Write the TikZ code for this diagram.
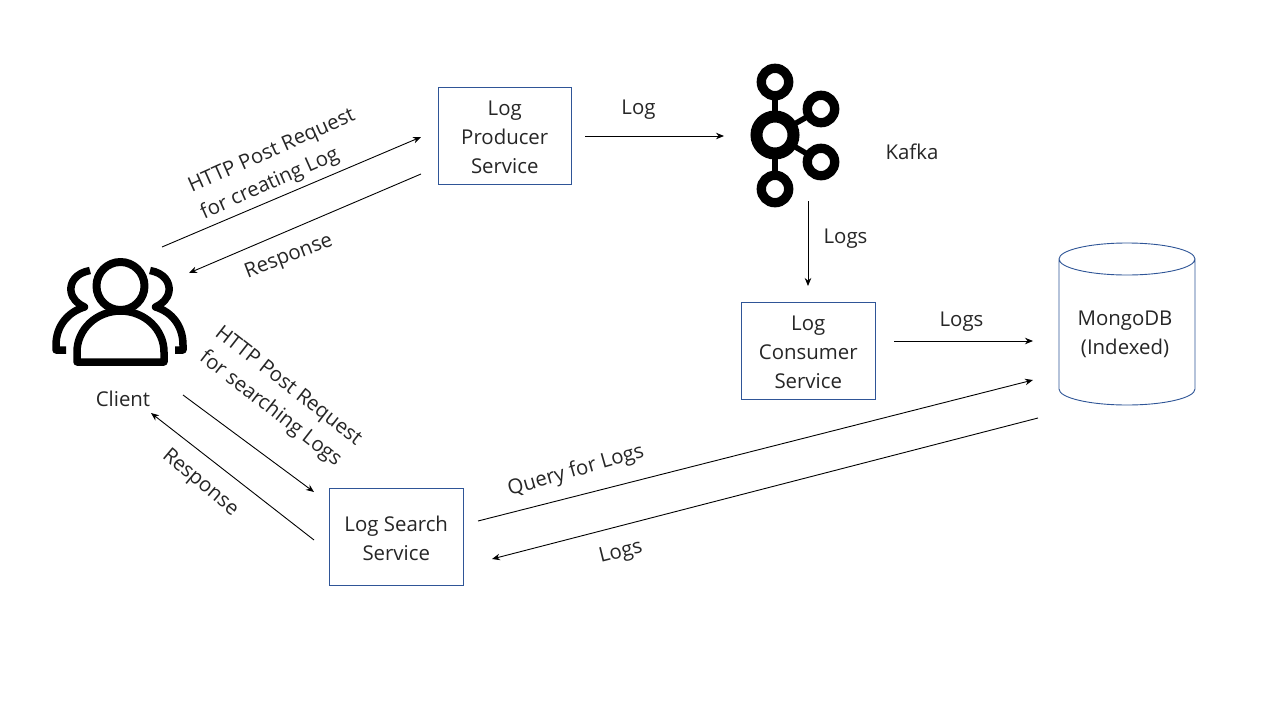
\documentclass[tikz,border=0pt]{standalone}
\usepackage{fontspec}
\setmainfont{Open Sans}
\usetikzlibrary{arrows.meta}
\definecolor{boxblue}{HTML}{2F5597}
\tikzset{
  x=1pt,y=-1pt,
  lbl/.style={font=\fontsize{20.4}{29}\selectfont,align=center,inner sep=0pt,text=black!85},
  svc/.style={draw=boxblue,line width=0.9pt,fill=white,anchor=north west,inner sep=0pt},
  svctext/.style={lbl,yshift=-1.5pt},
  conn/.style={draw=black,line width=0.9pt,-{Stealth[length=8pt,width=6.5pt]}},
  icon/.style={draw=black,line cap=round,line join=round},
}
\begin{document}
\begin{tikzpicture}
\useasboundingbox (0,0) rectangle (1280,720);
\fill[white] (0,0) rectangle (1280,720);
% services
\node[svc,minimum width=133pt,minimum height=97pt,label={[svctext]center:{Log\\Producer\\Service}}] (producer) at (437.8,86.8) {};
\node[svc,minimum width=134pt,minimum height=97pt,label={[svctext]center:{Log\\Consumer\\Service}}] (consumer) at (740.8,301.8) {};
\node[svc,minimum width=134pt,minimum height=97pt,label={[svctext]center:{Log Search\\Service}}] (search) at (328.8,487.8) {};
% cylinder
\draw[boxblue,line width=0.9pt] (1059,259) arc[start angle=180,end angle=0,x radius=68,y radius=16]
  arc[start angle=360,end angle=180,x radius=68,y radius=16] -- (1059,389)
  arc[start angle=180,end angle=0,x radius=68,y radius=16] -- (1195,259);
\node[lbl] (mongo) at (1125,334) {MongoDB\\(Indexed)};
% client icon
\draw[icon,line width=8pt] (120.5,286) circle[radius=24];
\draw[icon,line width=7.5pt] (77,362) -- (77,352) arc[start angle=180,end angle=360,x radius=43.5,y radius=41] -- (164,362) -- cycle;
\draw[icon,line width=7.5pt,line cap=butt] (90,270.5) .. controls (76,273) and (70,282) .. (71,291) .. controls (72,299) and (78,304) .. (84.5,307)
  .. controls (68,312) and (56,326) .. (56,345) -- (56,350) -- (66,350);
\draw[icon,line width=7.5pt,line cap=butt] (150,270.5) .. controls (164,273) and (170,282) .. (169,291) .. controls (168,299) and (162,304) .. (155.5,307)
  .. controls (172,312) and (183,326) .. (183,345) -- (183,350) -- (175,350);
\node[lbl] (client) at (123,399) {Client};
% kafka icon
\draw[line width=5.5pt] (775,135) -- (775,82);
\draw[line width=5.5pt] (775,135) -- (775,189);
\draw[line width=5.5pt] (775,135) -- (821,109);
\draw[line width=5.5pt] (775,135) -- (821,162);
\draw[fill=white,line width=12pt] (775,135) circle[radius=18.5];
\draw[fill=white,line width=9.3pt] (775,82) circle[radius=13.7];
\draw[fill=white,line width=9.3pt] (821,109) circle[radius=13.7];
\draw[fill=white,line width=9.3pt] (821,162) circle[radius=13.7];
\draw[fill=white,line width=9.3pt] (775,189) circle[radius=13.7];
\node[lbl] (kafka) at (912,152) {Kafka};
% connector ends
\coordinate (c1) at (162,247); \coordinate (p1) at (421,137);
\coordinate (p2) at (421,174); \coordinate (c2) at (189,273);
\coordinate (c3) at (183,395); \coordinate (s1) at (314,492);
\coordinate (s2) at (314,540); \coordinate (c4) at (151,413);
\coordinate (p3) at (585,136); \coordinate (k1) at (724,136);
\coordinate (k2) at (808,201); \coordinate (o1) at (808,286);
\coordinate (o2) at (894,341); \coordinate (m1) at (1033,341);
\coordinate (s3) at (478,521); \coordinate (m2) at (1033,380);
\coordinate (m3) at (1038,418); \coordinate (s4) at (492,559);
\draw[conn] (c1) -- (p1);
\draw[conn] (p2) -- (c2);
\draw[conn] (c3) -- (s1);
\draw[conn] (s2) -- (c4);
\draw[conn] (p3) -- (k1);
\draw[conn] (k2) -- (o1);
\draw[conn] (o2) -- (m1);
\draw[conn] (s3) -- (m2);
\draw[conn] (m3) -- (s4);
% labels
\node[lbl] (l1) at (638.5,109.5) {Log};
\node[lbl] (l2) at (845.5,238.5) {Logs};
\node[lbl] (l3) at (961.5,321.5) {Logs};
\node[lbl,rotate=24] (l4) at (278,165) {HTTP Post Request\\for creating Log\hspace*{30pt}};
\node[lbl,rotate=21] (l5) at (289,257) {Response};
\node[lbl,rotate=-38] (l6) at (279,398) {HTTP Post Request\\for searching Logs};
\node[lbl,rotate=-40] (l7) at (200,483) {Response};
\node[lbl,rotate=16] (l8) at (576,471) {Query for Logs};
\node[lbl,rotate=14] (l9) at (621,553) {Logs};
\end{tikzpicture}
\end{document}
